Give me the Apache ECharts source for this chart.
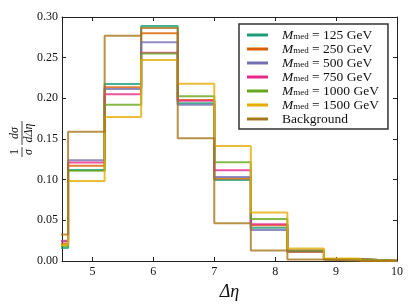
<!DOCTYPE html>
<html><head><meta charset="utf-8">
<script src="https://cdn.jsdelivr.net/npm/echarts@6/dist/echarts.min.js"></script>
<style>html,body{margin:0;padding:0;background:#fff}#c{width:415px;height:306px}</style>
</head><body><div id="c"></div>
<script>
// bin edges of the Δη histograms
const binEdges = [4.0, 4.6, 5.2, 5.8, 6.4, 7.0, 7.6, 8.2, 8.8, 9.4, 10.0];
const masses = [125, 250, 500, 750, 1000, 1500];
const m125  = [0.016, 0.112, 0.2177, 0.289, 0.194, 0.0996, 0.0410, 0.0120, 0.0020, 0.0003];
const m250  = [0.021, 0.117, 0.2136, 0.280, 0.198, 0.1013, 0.0439, 0.0110, 0.0020, 0.0003];
const m500  = [0.025, 0.124, 0.2115, 0.269, 0.192, 0.1033, 0.0381, 0.0120, 0.0020, 0.0003];
const m750  = [0.024, 0.121, 0.2050, 0.256, 0.197, 0.1115, 0.0451, 0.0128, 0.0020, 0.0003];
const m1000 = [0.018, 0.111, 0.1920, 0.255, 0.2025, 0.1214, 0.0517, 0.0130, 0.0020, 0.0003];
const m1500 = [0.020, 0.0985, 0.177, 0.247, 0.218, 0.1414, 0.0595, 0.0155, 0.0030, 0.0003];
const background = [0.0325, 0.159, 0.277, 0.2865, 0.151, 0.0464, 0.0128, 0.0017, 0.0003, 0.0001];
const yTicks = [0.00, 0.05, 0.10, 0.15, 0.20, 0.25, 0.30];
const xTicks = [5, 6, 7, 8, 9, 10];

const colors = ['#1b9e77', '#d95f02', '#7570b3', '#e7298a', '#66a61e', '#e6ab02', '#a6761d'];
const signalSets = [m125, m250, m500, m750, m1000, m1500];
const names = masses.map(m => 'M_med = ' + m + ' GeV').concat(['Background']);
const allSets = signalSets.concat([background]);

function stepData(vals) {
  const d = vals.map((v, i) => [binEdges[i], v]);
  d.push([binEdges[binEdges.length - 1], vals[vals.length - 1]]);
  return d;
}

const serif = 'Liberation Serif';
const series = allSets.map((vals, i) => ({
  name: names[i], type: 'line', step: 'end', data: stepData(vals),
  showSymbol: false, symbol: 'none', clip: true,
  color: colors[i],
  lineStyle: { width: 2, color: colors[i], opacity: 0.8 },
  xAxisIndex: 0, yAxisIndex: 0, z: 2 + i
}));

const chart = echarts.init(document.getElementById('c'), null, { renderer: 'canvas' });
const axisCommon = {
  axisLine: { show: true, onZero: false, lineStyle: { color: '#222', width: 1 } },
  axisTick: { show: true, inside: true, length: 4, lineStyle: { color: '#222' } },
  splitLine: { show: false }
};
const LH = 12.2;
const FS = 13.5;
chart.setOption({
  animation: false,
  grid: { left: 62, right: 18, top: 17, bottom: 45 },
  xAxis: [
    Object.assign({ type: 'value', min: 4.5, max: 10, position: 'bottom',
      axisLabel: { fontFamily: serif, fontSize: 12, color: '#111', margin: 5,
        formatter: v => xTicks.includes(v) ? String(v) : '' },
      name: 'Δη', nameLocation: 'middle', nameGap: 20,
      nameTextStyle: { fontFamily: serif, fontSize: 18, color: '#111', fontStyle: 'italic' } }, axisCommon),
    Object.assign({ type: 'value', min: 4.5, max: 10, position: 'top',
      axisLabel: { show: false } }, axisCommon)
  ],
  yAxis: [
    Object.assign({ type: 'value', min: 0, max: 0.30, interval: 0.05, position: 'left',
      axisLabel: { fontFamily: serif, fontSize: 12, color: '#111', margin: 4,
        formatter: v => yTicks.some(t => Math.abs(t - v) < 1e-9) ? v.toFixed(2) : '' } }, axisCommon),
    Object.assign({ type: 'value', min: 0, max: 0.30, interval: 0.05, position: 'right',
      axisLabel: { show: false } }, axisCommon)
  ],
  legend: {
    orient: 'vertical', left: 239, top: 24,
    data: names,
    icon: 'rect', itemWidth: 21, itemHeight: 3, itemGap: 0,
    padding: [4, 9, 3, 8],
    backgroundColor: '#fff', borderColor: '#333', borderWidth: 1.5, borderRadius: 0,
    inactiveColor: '#ccc',
    textStyle: {
      fontFamily: serif, fontSize: FS, color: '#111', lineHeight: LH,
      rich: {
        g: { width: 9, lineHeight: LH },
        m: { fontFamily: serif, fontStyle: 'italic', fontSize: FS, lineHeight: LH, color: '#111' },
        s: { fontFamily: serif, fontSize: 9, lineHeight: 8, verticalAlign: 'bottom', color: '#111' },
        t: { fontFamily: serif, fontSize: FS, lineHeight: LH, color: '#111' }
      }
    },
    formatter: name => {
      if (name.startsWith('M_med')) {
        return '{g|}{m|M}{s|med}{t|' + name.replace('M_med', '') + '}';
      }
      return '{g|}{t|' + name + '}';
    }
  },
  graphic: [{
    type: 'group', x: 22, y: 140, rotation: Math.PI / 2,
    children: [
      { type: 'text', x: -12, y: -1, style: { text: '1', font: '12px ' + serif, fill: '#111', align: 'center', verticalAlign: 'bottom' } },
      { type: 'line', shape: { x1: -17, y1: 0, x2: -7, y2: 0 }, style: { stroke: '#111', lineWidth: 0.8 } },
      { type: 'text', x: -12, y: 1, style: { text: 'σ', font: 'italic 12px ' + serif, fill: '#111', align: 'center', verticalAlign: 'top' } },
      { type: 'text', x: 7, y: -1, style: { text: 'dσ', font: 'italic 12px ' + serif, fill: '#111', align: 'center', verticalAlign: 'bottom' } },
      { type: 'line', shape: { x1: -5, y1: 0, x2: 19, y2: 0 }, style: { stroke: '#111', lineWidth: 0.8 } },
      { type: 'text', x: 7, y: 1, style: { text: 'dΔη', font: 'italic 12px ' + serif, fill: '#111', align: 'center', verticalAlign: 'top' } }
    ]
  }],
  series: series
});
</script>
</body></html>
